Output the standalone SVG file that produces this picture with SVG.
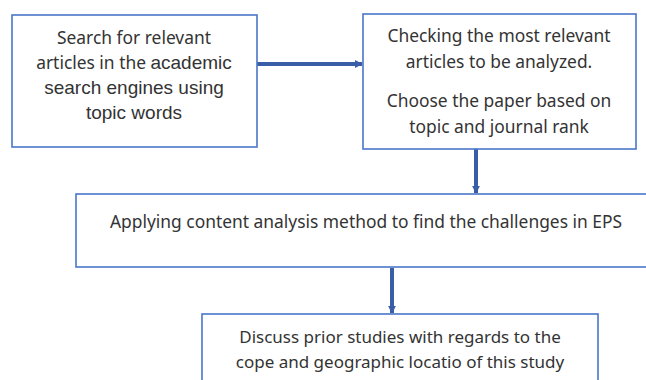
<svg xmlns="http://www.w3.org/2000/svg" width="646" height="380" viewBox="0 0 646 380">
<defs>
<style>
.box{fill:#fff;stroke:#4A76C8;stroke-width:1.6}
.t{font-family:"Noto Sans","Open Sans",sans-serif;font-size:17.4px;fill:#333;text-anchor:middle}
.a{font-family:"Liberation Sans",Arial,sans-serif;font-size:19px}
.c{fill:none;stroke:#3A5DA8;stroke-width:4}
</style>
<marker id="ah" viewBox="0 0 10 10" refX="9" refY="5" markerWidth="2" markerHeight="2" orient="auto" markerUnits="strokeWidth">
<path d="M0,0 L10,5 L0,10 z" fill="#3A5DA8"/>
</marker>
</defs>
<rect width="646" height="380" fill="#fff"/>
<g id="connectors">
<line class="c" x1="257" y1="64" x2="362" y2="64" marker-end="url(#ah)"/>
<line class="c" x1="476" y1="149" x2="476" y2="193" marker-end="url(#ah)"/>
<line class="c" x1="392" y1="268" x2="392" y2="313" marker-end="url(#ah)"/>
</g>
<g id="n1">
<rect class="box" x="12" y="15" width="245" height="132"/>
<text class="t" x="134" y="44">Search for relevant</text>
<text class="t" x="134" y="69">articles in the <tspan class="a">academic</tspan></text>
<text class="t a" x="134" y="94">search engines using</text>
<text class="t a" x="134" y="119">topic words</text>
</g>
<g id="n2">
<rect class="box" x="363" y="14" width="273" height="135"/>
<text class="t" x="499" y="42">Checking the most relevant</text>
<text class="t" x="499" y="68">articles to be analyzed.</text>
<text class="t" x="499" y="107">Choose the paper based on</text>
<text class="t" x="499" y="133">topic and journal rank</text>
</g>
<g id="n3">
<rect class="box" x="76" y="194" width="580" height="73"/>
<text class="t" x="366" y="228">Applying content analysis method to find the challenges in EPS</text>
</g>
<g id="n4">
<rect class="box" x="202" y="314" width="396" height="80"/>
<text class="t" x="400" y="343" style="font-size:17px">Discuss prior studies with regards to the</text>
<text class="t" x="400" y="368" style="font-size:17px">cope and geographic locatio of this study</text>
</g>
</svg>
